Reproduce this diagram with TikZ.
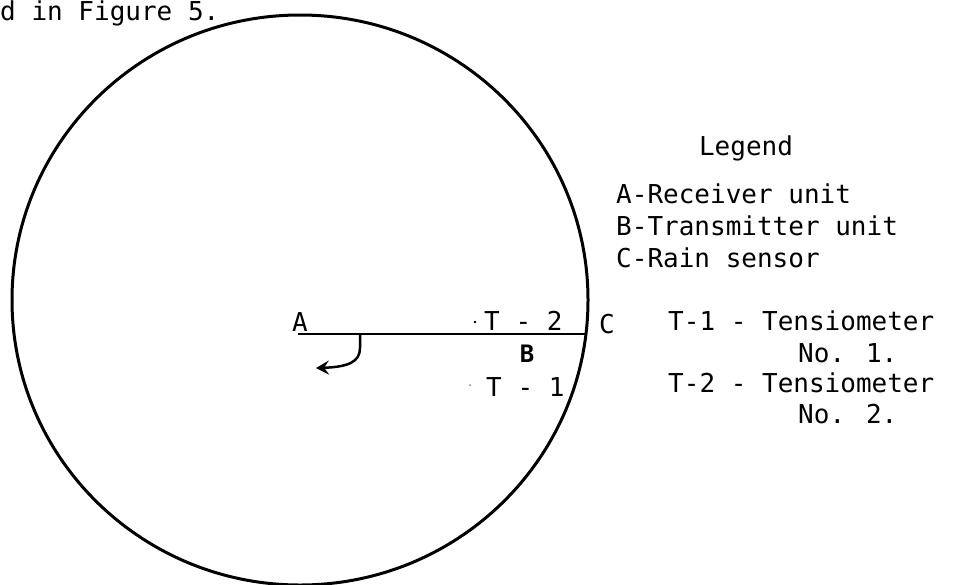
\documentclass[tikz,border=0pt]{standalone}
\usepackage{fontspec}
\newfontfamily\tw{DejaVu Sans Mono}
\usetikzlibrary{arrows.meta}
\tikzset{
  txt/.style={anchor=base west, inner sep=0pt, font=\tw\fontsize{26}{32}\selectfont},
  lbl/.style={anchor=base, inner sep=0pt, font=\tw\fontsize{26}{32}\selectfont},
  thick line/.style={line width=3pt},
  thin line/.style={line width=2.5pt}
}
\begin{document}
\begin{tikzpicture}[x=1pt,y=-1pt]
\useasboundingbox (0,0) rectangle (960,584);
\clip (0,0) rectangle (960,584);
\fill[white] (0,0) rectangle (960,584);
% caption text at the top
\node[txt] (cap) at (0,20) {d in Figure 5.};
% circle
\draw[thick line] (300,300) ellipse [x radius=288, y radius=285];
% line A -- C
\coordinate (a) at (298,334);
\coordinate (c) at (586,334);
\draw[thin line] (a) -- (c);
% hook arrow
\coordinate (h0) at (360,334);
\coordinate (h1) at (316,368);
\draw[thin line, -{Stealth[length=13pt,width=14pt,inset=5pt]}] (h0) -- (360,348) .. controls (360,362) and (348,367) .. (h1);
% labels in circle
\node[lbl] (A) at (300,331) {A};
\node[txt] (T2) at (484,330) {T - 2};
\node[lbl, font=\tw\bfseries\fontsize{24}{30}\selectfont] (B) at (527,362) {B};
\node[txt] (T1) at (486,396) {T - 1};
\fill (475,322) circle (1.4);
\fill[gray] (470,385) circle (1);
\node[txt] (C) at (599,333) {C};
% legend
\node[lbl] (leg) at (746,155) {Legend};
\node[txt] (la) at (616,203) {A-Receiver unit};
\node[txt] (lb) at (616,235) {B-Transmitter unit};
\node[txt] (lc) at (616,267) {C-Rain sensor};
\node[txt] (l1) at (668,330) {T-1 - Tensiometer};
\node[txt] (l1b) at (798,362) {No. 1.};
\node[txt] (l2) at (668,392) {T-2 - Tensiometer};
\node[txt] (l2b) at (798,423) {No. 2.};
\end{tikzpicture}
\end{document}
